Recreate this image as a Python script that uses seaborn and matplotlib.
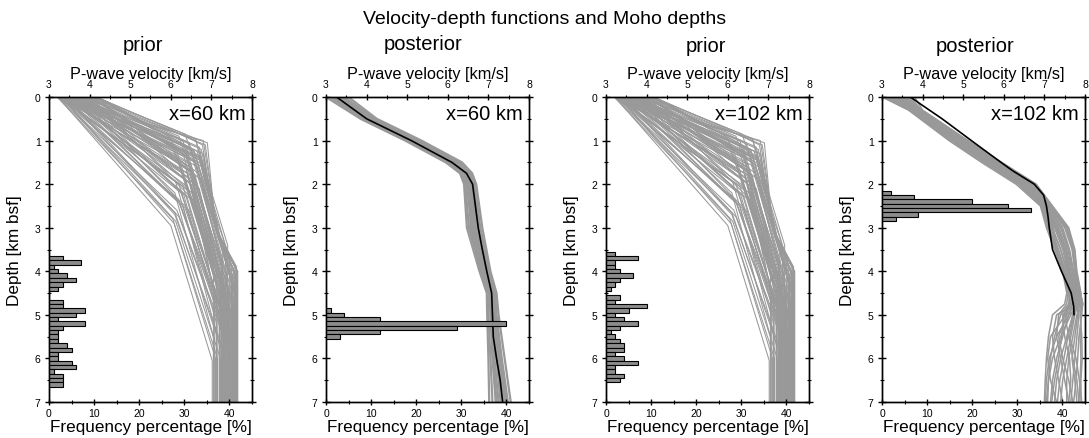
import numpy as np
import pandas as pd
import matplotlib
matplotlib.use("Agg")
import matplotlib.pyplot as plt
from matplotlib.ticker import MultipleLocator
import seaborn as sns

# ---------------- data ----------------
# prior velocity-depth profiles (same prior at both positions): nodes (depth km, velocity km/s)
PRIOR_PROFILES = [
    [(0, 4.20), (0.55, 5.25), (1.05, 6.90), (3.0, 7.10), (3.9, 7.62), (7, 7.62)],
    [(0, 4.15), (0.60, 5.30), (1.00, 6.80), (3.1, 7.15), (3.95, 7.60), (7, 7.60)],
    [(0, 4.05), (1.10, 6.85), (3.2, 7.15), (3.9, 7.58), (7, 7.58)],
    [(0, 3.95), (1.15, 6.70), (3.3, 7.20), (3.95, 7.55), (7, 7.55)],
    [(0, 3.85), (1.20, 6.75), (3.2, 7.20), (4.1, 7.60), (7, 7.60)],
    [(0, 4.10), (1.25, 6.65), (4.3, 7.50), (7, 7.50)],
    [(0, 3.70), (1.30, 6.80), (3.1, 7.15), (4.0, 7.64), (7, 7.64)],
    [(0, 3.60), (1.35, 6.60), (4.5, 7.57), (7, 7.57)],
    [(0, 3.50), (1.40, 6.70), (3.4, 7.25), (4.7, 7.62), (7, 7.62)],
    [(0, 4.00), (1.45, 6.55), (4.2, 7.40), (7, 7.40)],
    [(0, 3.40), (1.50, 6.60), (4.8, 7.55), (7, 7.55)],
    [(0, 3.30), (1.55, 6.50), (5.0, 7.60), (7, 7.60)],
    [(0, 3.80), (1.60, 6.45), (4.6, 7.35), (7, 7.35)],
    [(0, 3.55), (1.70, 6.55), (5.1, 7.63), (7, 7.63)],
    [(0, 3.25), (1.75, 6.40), (5.2, 7.50), (7, 7.50)],
    [(0, 3.90), (1.80, 6.60), (4.9, 7.45), (7, 7.45)],
    [(0, 3.45), (1.90, 6.35), (5.3, 7.58), (7, 7.58)],
    [(0, 3.65), (2.00, 6.50), (5.5, 7.62), (7, 7.62)],
    [(0, 3.20), (2.05, 6.30), (5.0, 7.25), (7, 7.25)],
    [(0, 4.20), (2.10, 6.70), (4.4, 7.30), (7, 7.30)],
    [(0, 3.35), (2.20, 6.25), (5.6, 7.55), (7, 7.55)],
    [(0, 3.75), (2.30, 6.40), (5.4, 7.40), (7, 7.40)],
    [(0, 3.30), (2.40, 6.20), (5.8, 7.60), (7, 7.60)],
    [(0, 3.50), (2.50, 6.30), (5.7, 7.20), (7, 7.20)],
    [(0, 3.25), (2.60, 6.15), (5.9, 7.50), (7, 7.50)],
    [(0, 3.40), (2.70, 6.10), (5.95, 7.35), (7, 7.35)],
    [(0, 3.20), (2.80, 6.05), (6.0, 7.10), (7, 7.10)],
    [(0, 3.22), (2.95, 6.00), (6.05, 7.02), (7, 7.02)],
    [(0, 3.30), (2.90, 6.08), (6.0, 7.15), (7, 7.15)],
    [(0, 3.60), (2.20, 6.10), (5.5, 7.05), (7, 7.05)],
    [(0, 3.90), (0.90, 6.20), (3.8, 7.25), (7, 7.25)],
    [(0, 4.10), (0.85, 6.35), (3.6, 7.35), (7, 7.35)],
    [(0, 3.70), (1.00, 6.30), (4.0, 7.12), (7, 7.12)],
    [(0, 3.45), (1.10, 6.10), (4.4, 7.20), (7, 7.20)],
    [(0, 4.20), (1.20, 6.55), (3.7, 7.45), (7, 7.45)],
    [(0, 3.95), (1.30, 6.40), (4.6, 7.08), (7, 7.08)],
    [(0, 3.80), (1.40, 6.75), (3.3, 7.20), (4.1, 7.52), (7, 7.52)],
    [(0, 3.55), (1.60, 6.65), (4.5, 7.42), (7, 7.42)],
    [(0, 3.35), (1.85, 6.45), (5.4, 7.28), (7, 7.28)],
    [(0, 4.05), (1.65, 6.85), (3.3, 7.20), (4.0, 7.65), (7, 7.65)],
    [(0, 3.28), (1.20, 6.05), (4.2, 7.30), (7, 7.30)],
    [(0, 3.62), (1.05, 6.45), (3.5, 7.28), (7, 7.28)],
    [(0, 4.12), (0.95, 6.60), (3.4, 7.40), (7, 7.40)],
    [(0, 3.88), (1.00, 6.62), (3.2, 7.18), (4.0, 7.57), (7, 7.57)],
    [(0, 4.18), (0.70, 5.90), (1.10, 6.78), (3.1, 7.12), (3.9, 7.61), (7, 7.61)],
    [(0, 3.72), (1.20, 6.50), (4.2, 7.48), (7, 7.48)],
    [(0, 3.42), (1.30, 6.30), (4.3, 7.32), (7, 7.32)],
    [(0, 3.58), (1.45, 6.72), (3.5, 7.28), (4.4, 7.59), (7, 7.59)],
    [(0, 3.22), (1.50, 6.20), (4.9, 7.38), (7, 7.38)],
    [(0, 3.98), (1.55, 6.78), (3.6, 7.32), (4.3, 7.61), (7, 7.61)],
    [(0, 3.68), (1.65, 6.38), (5.0, 7.44), (7, 7.44)],
    [(0, 3.32), (1.70, 6.25), (5.3, 7.47), (7, 7.47)],
    [(0, 4.08), (1.75, 6.68), (4.6, 7.54), (7, 7.54)],
    [(0, 3.52), (1.85, 6.58), (5.0, 7.56), (7, 7.56)],
    [(0, 3.78), (1.95, 6.45), (5.2, 7.36), (7, 7.36)],
    [(0, 3.26), (2.00, 6.20), (5.4, 7.33), (7, 7.33)],
    [(0, 3.92), (2.05, 6.55), (5.1, 7.52), (7, 7.52)],
    [(0, 3.48), (2.15, 6.42), (5.6, 7.61), (7, 7.61)],
    [(0, 3.66), (2.25, 6.32), (5.5, 7.30), (7, 7.30)],
    [(0, 3.24), (2.35, 6.18), (5.7, 7.44), (7, 7.44)],
    [(0, 4.02), (2.40, 6.60), (5.0, 7.42), (7, 7.42)],
    [(0, 3.38), (2.45, 6.22), (5.8, 7.53), (7, 7.53)],
    [(0, 3.56), (2.55, 6.35), (5.9, 7.59), (7, 7.59)],
    [(0, 3.21), (2.65, 6.10), (5.85, 7.27), (7, 7.27)],
    [(0, 3.44), (2.75, 6.20), (5.9, 7.46), (7, 7.46)],
    [(0, 3.31), (2.85, 6.12), (6.0, 7.22), (7, 7.22)],
    [(0, 3.74), (2.60, 6.45), (5.6, 7.50), (7, 7.50)],
    [(0, 3.84), (2.20, 6.52), (5.2, 7.57), (7, 7.57)],
    [(0, 4.14), (1.90, 6.75), (4.5, 7.60), (7, 7.60)],
    [(0, 3.64), (1.25, 6.58), (3.8, 7.38), (7, 7.38)],
    [(0, 3.36), (1.40, 6.42), (4.7, 7.43), (7, 7.43)],
    [(0, 3.82), (1.50, 6.82), (3.4, 7.24), (4.2, 7.63), (7, 7.63)],
    [(0, 3.46), (1.15, 6.38), (4.1, 7.22), (7, 7.22)],
    [(0, 4.16), (1.35, 6.70), (3.9, 7.50), (7, 7.50)],
    [(0, 3.52), (0.95, 6.00), (3.9, 7.05), (7, 7.05)],
    [(0, 3.94), (1.70, 6.48), (4.8, 7.26), (7, 7.26)],
    [(0, 3.40), (2.05, 6.40), (5.5, 7.49), (7, 7.49)],
    [(0, 3.70), (1.55, 6.35), (4.4, 7.16), (7, 7.16)],
    [(0, 3.58), (2.35, 6.50), (5.3, 7.64), (7, 7.64)],
    [(0, 3.27), (1.95, 6.12), (5.2, 7.13), (7, 7.13)],
]

# posterior profiles at x=60 km
POST60_DEPTHS = [0, 0.5, 1.0, 1.5, 1.75, 2.0, 3.0, 4.0, 4.5, 5.0, 6.0, 7.0]
POST60_PROFILES = [
    [3.00, 3.85, 4.95, 5.95, 6.30, 6.40, 6.47, 6.78, 6.96, 6.97, 7.00, 7.02],
    [3.10, 3.90, 5.00, 6.00, 6.35, 6.43, 6.52, 6.82, 7.00, 7.00, 7.05, 7.10],
    [3.20, 3.95, 5.05, 6.05, 6.40, 6.47, 6.58, 6.86, 7.03, 7.05, 7.10, 7.18],
    [3.25, 4.00, 5.10, 6.10, 6.42, 6.52, 6.62, 6.90, 7.06, 7.08, 7.15, 7.25],
    [3.30, 4.05, 5.15, 6.15, 6.46, 6.56, 6.66, 6.93, 7.08, 7.11, 7.20, 7.30],
    [3.35, 4.10, 5.20, 6.20, 6.50, 6.60, 6.70, 6.96, 7.10, 7.13, 7.24, 7.36],
    [3.40, 4.15, 5.25, 6.25, 6.53, 6.63, 6.75, 6.99, 7.13, 7.16, 7.28, 7.42],
    [3.45, 4.20, 5.30, 6.30, 6.57, 6.66, 6.80, 7.02, 7.16, 7.20, 7.33, 7.48],
    [3.55, 4.25, 5.35, 6.35, 6.60, 6.70, 6.85, 7.05, 7.20, 7.25, 7.40, 7.55],
    [3.15, 3.92, 5.12, 6.22, 6.48, 6.50, 6.60, 6.88, 7.04, 7.10, 7.22, 7.38],
    [3.38, 4.08, 5.08, 6.08, 6.44, 6.58, 6.72, 6.95, 7.12, 7.06, 7.12, 7.20],
    [3.28, 4.12, 5.22, 6.28, 6.55, 6.62, 6.55, 6.84, 7.02, 7.18, 7.30, 7.45],
]
MEAN60_DEPTHS = [0, 0.5, 1.0, 1.5, 1.75, 2.0, 3.0, 3.5, 4.0, 4.5, 5.0, 5.5, 6.0, 6.5, 7.0]
MEAN60_VEL = [3.26, 4.00, 5.10, 6.10, 6.46, 6.61, 6.75, 6.85, 6.96, 7.08, 7.10, 7.12, 7.20, 7.29, 7.35]

# posterior profiles at x=102 km
POST102_DEPTHS = [0, 0.3, 1.0, 1.5, 2.0, 2.5, 3.0, 3.5, 4.0, 4.5, 4.75, 5.0, 5.5, 6.0, 6.5, 7.0]
POST102_PROFILES = [
    [3.00, 3.65, 4.65, 5.45, 6.30, 6.90, 7.05, 7.25, 7.45, 7.55, 7.50, 7.20, 7.10, 7.05, 7.02, 7.00],
    [3.10, 3.70, 4.72, 5.52, 6.38, 6.95, 7.12, 7.32, 7.50, 7.62, 7.60, 7.40, 7.25, 7.15, 7.10, 7.08],
    [3.20, 3.75, 4.78, 5.60, 6.45, 6.98, 7.20, 7.40, 7.55, 7.68, 7.70, 7.60, 7.45, 7.30, 7.20, 7.15],
    [3.30, 3.80, 4.85, 5.68, 6.52, 7.02, 7.28, 7.48, 7.60, 7.72, 7.78, 7.75, 7.65, 7.55, 7.45, 7.40],
    [3.40, 3.85, 4.92, 5.75, 6.60, 7.06, 7.36, 7.55, 7.65, 7.78, 7.84, 7.85, 7.80, 7.75, 7.70, 7.65],
    [3.50, 3.90, 4.98, 5.82, 6.68, 7.10, 7.45, 7.62, 7.72, 7.84, 7.90, 7.90, 7.88, 7.90, 7.88, 7.85],
    [3.65, 3.95, 5.05, 5.90, 6.75, 7.15, 7.55, 7.72, 7.78, 7.88, 7.95, 7.88, 7.92, 7.93, 7.90, 7.90],
    [3.80, 4.00, 5.12, 5.95, 6.80, 7.20, 7.60, 7.75, 7.80, 7.90, 7.92, 7.70, 7.55, 7.40, 7.30, 7.25],
    [3.05, 3.68, 4.70, 5.58, 6.42, 6.97, 7.15, 7.35, 7.52, 7.65, 7.66, 7.50, 7.60, 7.70, 7.80, 7.85],
    [3.25, 3.78, 4.88, 5.70, 6.55, 7.00, 7.25, 7.45, 7.58, 7.70, 7.74, 7.30, 7.20, 7.25, 7.35, 7.45],
    [3.45, 3.88, 4.95, 5.78, 6.62, 7.08, 7.40, 7.58, 7.68, 7.80, 7.86, 7.80, 7.70, 7.60, 7.55, 7.55],
    [3.60, 3.92, 5.00, 5.85, 6.70, 7.12, 7.50, 7.68, 7.75, 7.86, 7.90, 7.65, 7.40, 7.20, 7.10, 7.05],
    [3.15, 3.72, 4.75, 5.62, 6.48, 7.00, 7.32, 7.52, 7.62, 7.75, 7.80, 7.55, 7.35, 7.45, 7.60, 7.70],
    [3.35, 3.82, 4.90, 5.72, 6.58, 7.04, 7.22, 7.30, 7.48, 7.60, 7.65, 7.45, 7.50, 7.62, 7.65, 7.60],
    [3.12, 3.71, 4.76, 5.56, 6.40, 6.93, 7.10, 7.28, 7.47, 7.58, 7.55, 7.35, 7.30, 7.40, 7.50, 7.60],
    [3.22, 3.76, 4.82, 5.64, 6.50, 7.01, 7.30, 7.50, 7.63, 7.74, 7.76, 7.70, 7.58, 7.48, 7.38, 7.32],
    [3.42, 3.86, 4.94, 5.76, 6.64, 7.07, 7.42, 7.60, 7.70, 7.82, 7.88, 7.60, 7.30, 7.12, 7.05, 7.02],
    [3.55, 3.91, 5.02, 5.86, 6.72, 7.13, 7.52, 7.70, 7.76, 7.87, 7.93, 7.82, 7.75, 7.68, 7.75, 7.80],
    [3.70, 3.97, 5.08, 5.92, 6.78, 7.18, 7.58, 7.74, 7.79, 7.89, 7.94, 7.92, 7.85, 7.82, 7.78, 7.72],
    [3.08, 3.69, 4.68, 5.50, 6.35, 6.92, 7.08, 7.30, 7.48, 7.60, 7.62, 7.48, 7.42, 7.35, 7.25, 7.18],
    [3.38, 3.84, 4.93, 5.74, 6.60, 7.05, 7.33, 7.52, 7.64, 7.76, 7.82, 7.72, 7.62, 7.78, 7.86, 7.92],
    [3.18, 3.74, 4.80, 5.66, 6.50, 7.02, 7.18, 7.40, 7.56, 7.66, 7.70, 7.52, 7.15, 7.08, 7.15, 7.30],
]
MEAN102_DEPTHS = [0, 0.15, 0.5, 1.0, 1.5, 1.7, 2.0, 2.25, 2.5, 2.75, 3.0, 3.5, 4.0, 4.5, 4.8, 5.0]
MEAN102_VEL = [3.70, 3.93, 4.48, 5.20, 5.93, 6.23, 6.75, 6.98, 7.05, 7.09, 7.12, 7.20, 7.42, 7.66, 7.72, 7.73]

# Moho depth histograms (bin centres in km, frequency in %)
PRIOR60_MOHO = [3.7, 3.8, 3.9, 4.0, 4.1, 4.2, 4.3, 4.4, 4.5, 4.6, 4.7, 4.8, 4.9, 5.0, 5.1,
                5.2, 5.3, 5.4, 5.5, 5.6, 5.7, 5.8, 5.9, 6.0, 6.1, 6.2, 6.3, 6.4, 6.5, 6.6]
PRIOR60_FREQ = [3, 7, 1, 2, 4, 6, 3, 2, 0, 0, 3, 3, 8, 6, 2, 8, 3, 2, 2, 2, 4, 5, 2, 2, 5, 6, 1, 3, 3, 3]
POST60_MOHO = [4.9, 5.0, 5.1, 5.2, 5.3, 5.4, 5.5]
POST60_FREQ = [1, 4, 12, 40, 29, 12, 3]
PRIOR102_MOHO = [3.6, 3.7, 3.8, 3.9, 4.0, 4.1, 4.2, 4.3, 4.4, 4.5, 4.6, 4.7, 4.8, 4.9, 5.0,
                 5.1, 5.2, 5.3, 5.4, 5.5, 5.6, 5.7, 5.8, 5.9, 6.0, 6.1, 6.2, 6.3, 6.4, 6.5]
PRIOR102_FREQ = [2, 7, 2, 2, 3, 6, 3, 2, 1, 0, 3, 2, 9, 5, 2, 4, 7, 3, 1, 2, 3, 4, 4, 2, 4, 7, 2, 2, 4, 3]
POST102_MOHO = [2.2, 2.3, 2.4, 2.5, 2.6, 2.7, 2.8]
POST102_FREQ = [2, 7, 20, 28, 33, 8, 3]

PANEL_TITLES = ["prior", "posterior", "prior", "posterior"]
PANEL_LABELS = ["x=60 km", "x=60 km", "x=102 km", "x=102 km"]
SUPTITLE = "Velocity-depth functions and Moho depths"
BIN_WIDTH = 0.1

# ---------------- helpers ----------------
def nodes_to_df(profiles):
    rows = []
    for i, prof in enumerate(profiles):
        for d, v in prof:
            rows.append({"id": i, "depth": d, "vel": v})
    return pd.DataFrame(rows)


def grid_to_df(depths, profiles):
    rows = []
    for i, prof in enumerate(profiles):
        for d, v in zip(depths, prof):
            rows.append({"id": i, "depth": d, "vel": v})
    return pd.DataFrame(rows)


sns.set_theme(style="ticks")
plt.rcParams["font.family"] = ["Liberation Sans", "DejaVu Sans"]
plt.rcParams["axes.linewidth"] = 1.0
for key in ["text.color", "axes.labelcolor", "xtick.color", "ytick.color", "axes.edgecolor"]:
    plt.rcParams[key] = "black"

W, H = 1089, 439
fig = plt.figure(figsize=(W / 100, H / 100), dpi=100)

LINE_GRAY = "#999999"
BAR_GRAY = "#8c8c8c"

panels = [
    dict(lines=nodes_to_df(PRIOR_PROFILES), mean=None, moho=PRIOR60_MOHO, freq=PRIOR60_FREQ, lw=0.75),
    dict(lines=grid_to_df(POST60_DEPTHS, POST60_PROFILES), mean=(MEAN60_DEPTHS, MEAN60_VEL),
         moho=POST60_MOHO, freq=POST60_FREQ, lw=1.6),
    dict(lines=nodes_to_df(PRIOR_PROFILES), mean=None, moho=PRIOR102_MOHO, freq=PRIOR102_FREQ, lw=0.75),
    dict(lines=grid_to_df(POST102_DEPTHS, POST102_PROFILES), mean=(MEAN102_DEPTHS, MEAN102_VEL),
         moho=POST102_MOHO, freq=POST102_FREQ, lw=1.1),
]

lefts = [49, 326, 606, 882]
ax_w, ax_top, ax_bot = 203, 98, 403
title_baselines = [51, 50, 52, 52]
title_xshift = [-8, -4, -2, -8]

for k, p in enumerate(panels):
    ax = fig.add_axes([lefts[k] / W, (H - ax_bot) / H, ax_w / W, (ax_bot - ax_top) / H])
    sns.lineplot(data=p["lines"], x="vel", y="depth", units="id", estimator=None, sort=False,
                 color=LINE_GRAY, lw=p["lw"], ax=ax, legend=False)
    if p["mean"] is not None:
        md, mv = p["mean"]
        mean_df = pd.DataFrame({"depth": md, "vel": mv})
        sns.lineplot(data=mean_df, x="vel", y="depth", sort=False, estimator=None,
                     color="black", lw=1.2, ax=ax)

    ax2 = ax.twiny()
    hist_df = pd.DataFrame({"moho": p["moho"], "freq": p["freq"]})
    centers = np.array(p["moho"])
    edges = list(np.append(centers - BIN_WIDTH / 2, centers[-1] + BIN_WIDTH / 2))
    sns.histplot(data=hist_df, y="moho", weights="freq", bins=edges, ax=ax2, color=BAR_GRAY,
                 edgecolor="black", linewidth=0.8, alpha=1.0)

    # velocity axis on top
    ax.set_xlim(3, 8)
    ax.xaxis.tick_top()
    ax.xaxis.set_label_position("top")
    ax.xaxis.set_major_locator(MultipleLocator(1))
    ax.xaxis.set_minor_locator(MultipleLocator(0.5))
    ax.set_xlabel("P-wave velocity [km/s]", fontsize=11.7)
    ax.xaxis.set_label_coords(0.5, 1 + 19 / 305)

    # frequency axis on bottom
    ax2.set_xlim(0, 45)
    ax2.xaxis.tick_bottom()
    ax2.xaxis.set_label_position("bottom")
    ax2.xaxis.set_major_locator(MultipleLocator(10))
    ax2.xaxis.set_minor_locator(MultipleLocator(5))
    ax2.set_xlabel("Frequency percentage [%]", fontsize=12.3)
    ax2.xaxis.set_label_coords(0.5, -17 / 305)

    # depth axis
    ax.set_ylim(7, 0)
    ax.yaxis.set_major_locator(MultipleLocator(1))
    ax.yaxis.set_minor_locator(MultipleLocator(0.5))
    ax.set_ylabel("Depth [km bsf]", fontsize=12.3)
    ax.yaxis.set_label_coords(-27 / ax_w, 0.5)

    ax.tick_params(axis="x", which="both", top=True, bottom=False, labeltop=True,
                   labelbottom=False, direction="inout", labelsize=7.5, pad=3, colors="black")
    ax.tick_params(axis="x", which="major", length=5, width=1.0)
    ax.tick_params(axis="x", which="minor", length=3, width=0.8)
    ax.tick_params(axis="y", which="both", left=True, right=True, labelleft=True,
                   labelright=False, direction="inout", labelsize=7.5, pad=3, colors="black")
    ax.tick_params(axis="y", which="major", length=6, width=1.0)
    ax.tick_params(axis="y", which="minor", length=3, width=0.8)
    ax2.tick_params(axis="x", which="both", bottom=True, top=False, labelbottom=True,
                    labeltop=False, direction="inout", labelsize=7.5, pad=1.5, colors="black")
    ax2.tick_params(axis="x", which="major", length=5, width=1.0)
    ax2.tick_params(axis="x", which="minor", length=3, width=0.8)

    for a in (ax, ax2):
        for s in a.spines.values():
            s.set_visible(True)
            s.set_color("black")
            s.set_linewidth(1.0)

    ax.text(1 - 6 / ax_w, 1 - 22 / 305, PANEL_LABELS[k], transform=ax.transAxes,
            ha="right", va="baseline", fontsize=14.5, color="black")
    fig.text((lefts[k] + ax_w / 2 + title_xshift[k]) / W, 1 - title_baselines[k] / H,
             PANEL_TITLES[k], ha="center", va="baseline", fontsize=14.5, color="black")
    ax.set_ylim(7, 0)

fig.text(0.5, 1 - 24 / H, SUPTITLE, ha="center", va="baseline", fontsize=14, color="black")

fig.savefig("out.png", dpi=100)
